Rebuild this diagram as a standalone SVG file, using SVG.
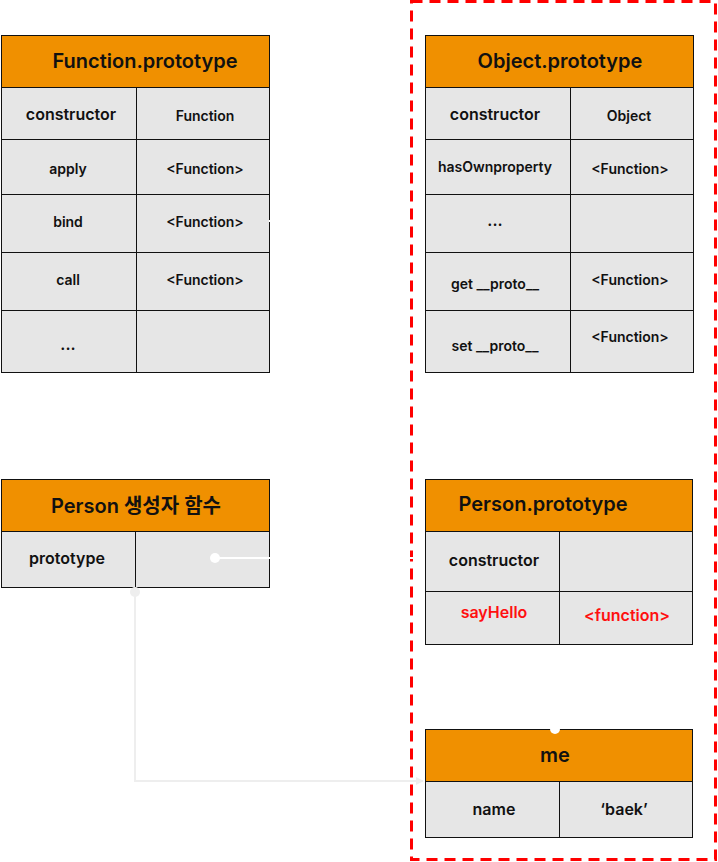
<svg xmlns="http://www.w3.org/2000/svg" width="718" height="862" viewBox="0 0 718 862">
<style>
text{font-family:Inter,"Noto Sans","Noto Sans CJK KR",sans-serif;font-weight:600;fill:#111;text-anchor:middle;dominant-baseline:central}
.h{fill:#F09000;stroke:#111;stroke-width:1}
.c{fill:#E6E6E6;stroke:#111;stroke-width:1}
.t{font-size:20px}
.m{font-size:16px}
.s{font-size:14px}
.r{fill:#FF1010}
</style>
<defs>
<marker id="ah" viewBox="0 0 10 10" refX="9" refY="5" markerWidth="4" markerHeight="4" orient="auto" markerUnits="strokeWidth"><path d="M0,0L10,5L0,10z" fill="#EEEEEE"/></marker>
</defs>
<rect x="411.5" y="1.5" width="304" height="858" fill="none" stroke="#FF0000" stroke-width="3" stroke-dasharray="11 7"/>
<g id="function-prototype">
<rect class="h" x="1.5" y="35.5" width="268" height="52"/>
<text class="t" x="145" y="61">Function.prototype</text>
<rect class="c" x="1.5" y="87.5" width="135" height="52"/><rect class="c" x="136.5" y="87.5" width="133" height="52"/>
<rect class="c" x="1.5" y="139.5" width="135" height="55"/><rect class="c" x="136.5" y="139.5" width="133" height="55"/>
<rect class="c" x="1.5" y="194.5" width="135" height="58"/><rect class="c" x="136.5" y="194.5" width="133" height="58"/>
<rect class="c" x="1.5" y="252.5" width="135" height="58"/><rect class="c" x="136.5" y="252.5" width="133" height="58"/>
<rect class="c" x="1.5" y="310.5" width="135" height="62"/><rect class="c" x="136.5" y="310.5" width="133" height="62"/>
<text class="m" x="71" y="114">constructor</text><text class="s" x="205" y="115">Function</text>
<text class="s" x="68" y="168">apply</text><text class="s" x="205" y="168">&lt;Function&gt;</text>
<text class="s" x="68" y="221">bind</text><text class="s" x="205" y="221">&lt;Function&gt;</text>
<text class="s" x="68" y="279">call</text><text class="s" x="205" y="279">&lt;Function&gt;</text>
<text class="m" x="68" y="344">...</text>
</g>
<g id="object-prototype">
<rect class="h" x="425.5" y="35.5" width="268" height="52"/>
<text class="t" x="560" y="61">Object.prototype</text>
<rect class="c" x="425.5" y="87.5" width="145" height="52"/><rect class="c" x="570.5" y="87.5" width="123" height="52"/>
<rect class="c" x="425.5" y="139.5" width="145" height="55"/><rect class="c" x="570.5" y="139.5" width="123" height="55"/>
<rect class="c" x="425.5" y="194.5" width="145" height="58"/><rect class="c" x="570.5" y="194.5" width="123" height="58"/>
<rect class="c" x="425.5" y="252.5" width="145" height="58"/><rect class="c" x="570.5" y="252.5" width="123" height="58"/>
<rect class="c" x="425.5" y="310.5" width="145" height="62"/><rect class="c" x="570.5" y="310.5" width="123" height="62"/>
<text class="m" x="495" y="114">constructor</text><text class="s" x="629" y="115">Object</text>
<text class="s" x="495" y="166">hasOwnproperty</text><text class="s" x="630" y="168">&lt;Function&gt;</text>
<text class="m" x="495" y="220">...</text>
<text class="s" x="495" y="283">get __proto__</text><text class="s" x="630" y="279">&lt;Function&gt;</text>
<text class="s" x="495" y="345">set __proto__</text><text class="s" x="630" y="336">&lt;Function&gt;</text>
</g>
<g id="person-constructor">
<rect class="h" x="1.5" y="479.5" width="268" height="52"/>
<text class="t" x="136" y="506">Person 생성자 함수</text>
<rect class="c" x="1.5" y="531.5" width="134" height="56"/><rect class="c" x="135.5" y="531.5" width="134" height="56"/>
<text class="m" x="67" y="558">prototype</text>
</g>
<g id="person-prototype">
<rect class="h" x="425.5" y="479.5" width="267" height="52"/>
<text class="t" x="543" y="504">Person.prototype</text>
<rect class="c" x="425.5" y="531.5" width="134" height="60"/><rect class="c" x="559.5" y="531.5" width="133" height="60"/>
<rect class="c" x="425.5" y="591.5" width="134" height="53"/><rect class="c" x="559.5" y="591.5" width="133" height="53"/>
<text class="m" x="494" y="560">constructor</text>
<text class="m r" x="494" y="612">sayHello</text>
<text class="m r" x="627" y="615">&lt;function&gt;</text>
</g>
<g id="me">
<rect class="h" x="425.5" y="729.5" width="267" height="52"/>
<text class="t" x="555" y="755">me</text>
<rect class="c" x="425.5" y="781.5" width="134" height="56"/><rect class="c" x="559.5" y="781.5" width="133" height="56"/>
<text class="m" x="494" y="809">name</text>
<text class="m" x="624" y="809">‘baek’</text>
</g>
<g id="connectors">
<line x1="215" y1="558" x2="425" y2="558" stroke="#FFFFFF" stroke-width="2"/>
<circle cx="215" cy="558" r="5" fill="#FFFFFF"/>
<line x1="269" y1="221" x2="425" y2="221" stroke="#FFFFFF" stroke-width="2"/>
<circle cx="555" cy="729" r="5" fill="#FFFFFF"/>
<path d="M135,592V781H423" fill="none" stroke="#EEEEEE" stroke-width="2" marker-end="url(#ah)"/>
<circle cx="135" cy="592" r="5" fill="#EEEEEE"/>
</g>
</svg>
